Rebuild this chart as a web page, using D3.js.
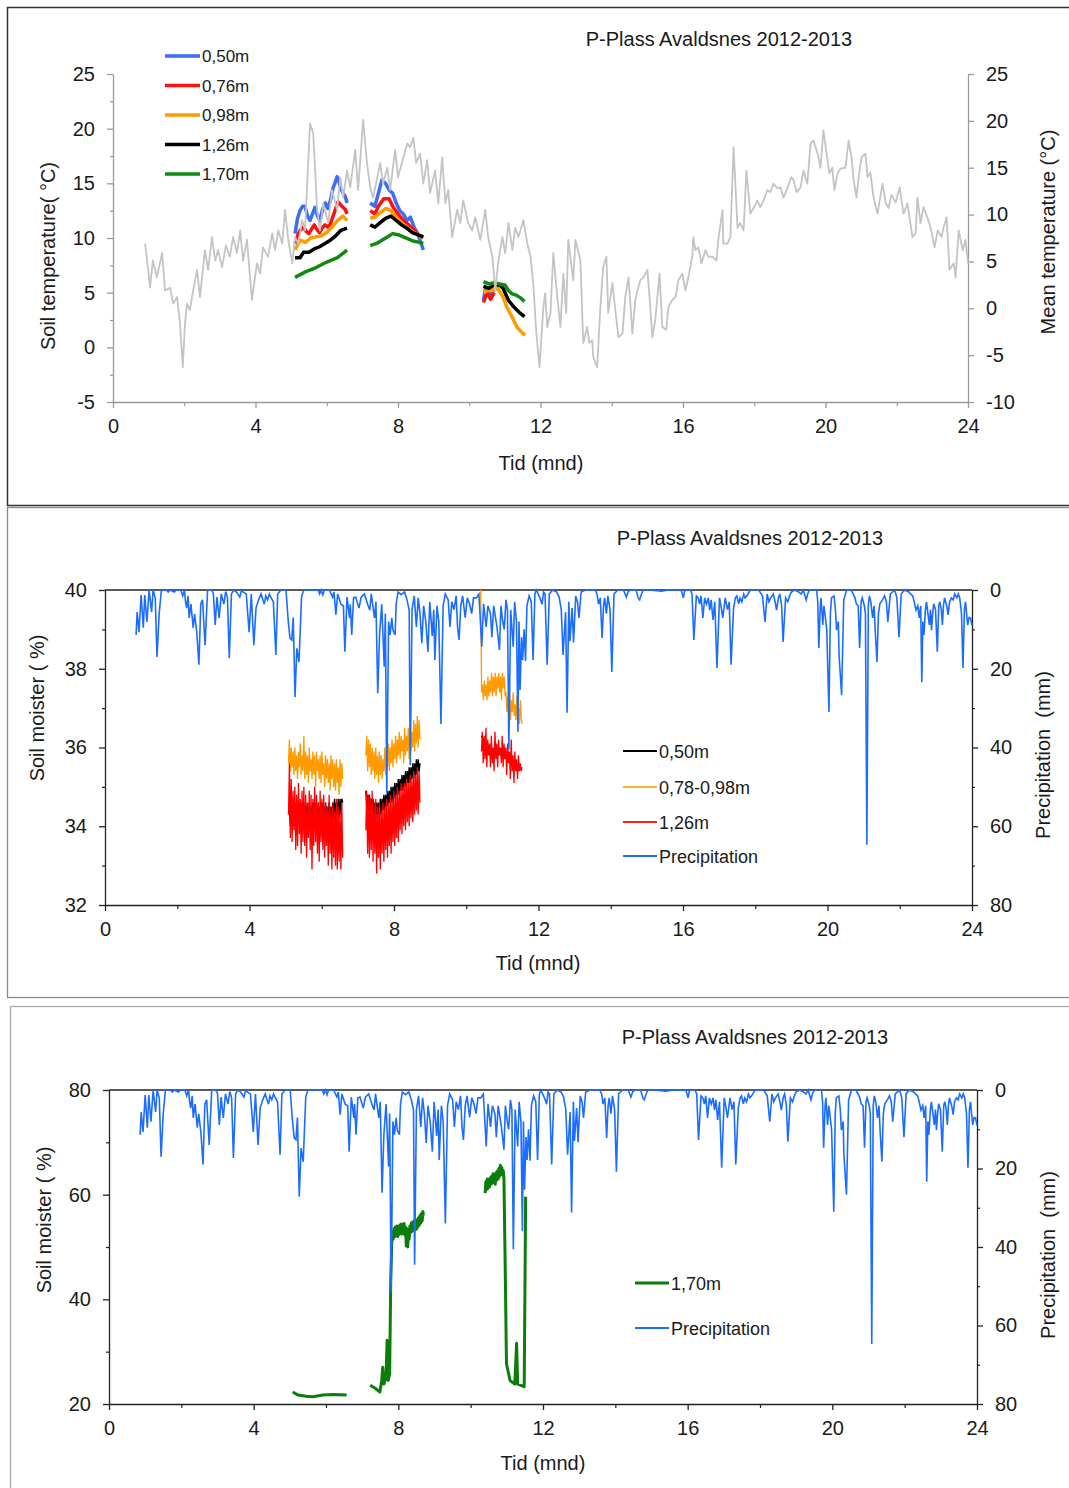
<!DOCTYPE html>
<html>
<head>
<meta charset="utf-8">
<script src="https://cdn.jsdelivr.net/npm/d3@7"></script>
<style>
body { margin: 0; background: #fff; }
text { font-family: "Liberation Sans", Arial, sans-serif; fill: #1a1a1a; }
</style>
</head>
<body>
<div id="chart"></div>
<script>
// ---------- data (month, value) ----------
var monthTicks = [0, 4, 8, 12, 16, 20, 24];
var monthMinor = [2, 6, 10, 14, 18, 22];

// mean air temperature (right axis, deg C)
var meanTemp = [[0.9,6.9],[0.98,4.4],[1.04,2.2],[1.12,5.1],[1.23,3.3],[1.38,5.9],[1.46,1.9],[1.6,2.2],[1.69,0.5],[1.8,1.2],[1.88,-1.6],[1.96,-6.3],[2.02,-1.6],[2.08,0.5],[2.16,-0.2],[2.25,1.9],[2.36,4.1],[2.44,1.2],[2.58,6.2],[2.67,4.1],[2.78,7.6],[2.87,5.1],[2.95,6.2],[3.06,4.4],[3.17,6.7],[3.28,5.5],[3.37,7.6],[3.48,5.9],[3.57,8.3],[3.65,5.1],[3.76,7.3],[3.9,0.9],[4.04,4.8],[4.13,3.7],[4.21,6.5],[4.35,5.5],[4.47,8.0],[4.55,6.2],[4.64,8.3],[4.75,6.9],[4.83,10.5],[4.92,7.3],[5.03,4.8],[5.11,7.6],[5.2,6.9],[5.31,9.4],[5.39,8.3],[5.53,19.7],[5.62,18.7],[5.73,10.5],[5.81,8.3],[5.9,11.2],[6.04,9.1],[6.15,12.6],[6.29,10.5],[6.38,14.0],[6.46,11.8],[6.57,14.7],[6.66,12.9],[6.8,16.9],[6.88,12.6],[7.02,20.1],[7.13,15.5],[7.22,12.9],[7.3,11.8],[7.42,14.0],[7.5,15.5],[7.58,13.3],[7.7,15.0],[7.78,12.6],[7.92,16.9],[8.0,14.0],[8.15,16.1],[8.26,17.6],[8.34,17.2],[8.43,18.2],[8.51,15.5],[8.62,16.5],[8.71,13.3],[8.82,15.8],[8.9,12.3],[9.04,14.7],[9.13,11.2],[9.24,16.1],[9.33,11.2],[9.41,12.6],[9.52,7.6],[9.66,10.5],[9.75,9.1],[9.83,11.5],[9.97,9.1],[10.08,8.3],[10.17,9.7],[10.31,7.3],[10.45,10.5],[10.53,7.6],[10.65,5.5],[10.73,1.9],[10.82,5.1],[10.93,7.6],[11.01,5.9],[11.1,9.1],[11.21,6.2],[11.29,8.6],[11.38,7.6],[11.52,9.4],[11.63,6.9],[11.72,5.5],[11.8,2.5],[11.88,-2.5],[11.97,-6.3],[12.08,0.1],[12.13,1.6],[12.19,-2.0],[12.28,-0.5],[12.36,5.9],[12.47,1.2],[12.56,-2.0],[12.64,3.7],[12.72,-0.5],[12.78,7.3],[12.86,4.8],[12.92,3.0],[12.98,7.3],[13.12,5.1],[13.2,-3.7],[13.31,-2.0],[13.37,-3.7],[13.45,-3.4],[13.48,-5.2],[13.59,-6.3],[13.68,0.1],[13.76,4.4],[13.85,5.5],[13.9,-0.5],[14.02,2.7],[14.1,-0.2],[14.19,-3.1],[14.3,-2.7],[14.38,1.2],[14.47,3.3],[14.58,-2.7],[14.66,0.9],[14.72,1.9],[14.8,3.0],[14.89,3.3],[15.0,4.1],[15.06,1.2],[15.14,-3.1],[15.22,-1.3],[15.34,3.7],[15.42,-2.0],[15.53,-2.3],[15.59,0.1],[15.7,0.9],[15.79,1.2],[15.87,3.0],[15.98,3.7],[16.07,1.9],[16.15,3.3],[16.26,5.5],[16.29,7.6],[16.35,6.2],[16.43,6.5],[16.52,4.8],[16.63,6.2],[16.71,5.5],[16.83,5.5],[16.94,5.1],[16.99,7.3],[17.11,10.5],[17.13,6.9],[17.25,6.9],[17.33,7.6],[17.42,17.2],[17.53,8.6],[17.61,9.1],[17.7,8.3],[17.78,14.7],[17.89,10.1],[18.0,10.8],[18.09,11.5],[18.17,10.8],[18.26,11.5],[18.37,12.6],[18.45,12.4],[18.54,13.3],[18.65,12.8],[18.74,12.9],[18.82,11.8],[18.93,12.8],[19.04,14.0],[19.1,13.7],[19.19,12.4],[19.3,12.9],[19.38,14.7],[19.49,13.3],[19.58,17.6],[19.66,17.9],[19.78,16.5],[19.86,15.0],[19.94,19.0],[20.03,16.5],[20.11,14.4],[20.19,15.0],[20.25,12.6],[20.34,14.4],[20.42,14.9],[20.56,15.0],[20.65,17.9],[20.73,16.1],[20.79,13.7],[20.87,11.8],[20.93,14.0],[21.01,16.1],[21.12,16.5],[21.18,14.0],[21.26,14.5],[21.35,11.8],[21.46,10.1],[21.6,13.3],[21.69,11.2],[21.77,10.7],[21.85,12.1],[21.97,11.3],[22.08,12.9],[22.19,10.1],[22.3,11.2],[22.44,7.6],[22.53,8.0],[22.58,11.8],[22.67,9.1],[22.75,10.8],[22.86,9.7],[22.95,8.6],[23.06,6.5],[23.15,8.3],[23.26,7.6],[23.31,8.6],[23.4,9.7],[23.48,4.1],[23.6,4.8],[23.65,3.3],[23.74,8.3],[23.85,6.2],[23.93,7.3],[24.0,4.8]];

// soil temperature per depth, three logging periods each
var soilT050 = [
  [[5.11,10.4],[5.18,11.8],[5.25,12.5],[5.32,12.9],[5.39,12.9],[5.46,12.0],[5.53,11.6],[5.6,12.2],[5.67,12.8],[5.74,12.0],[5.81,11.6],[5.88,12.6],[5.96,13.2],[6.03,12.7],[6.1,13.4],[6.18,14.6],[6.24,15.1],[6.29,15.6],[6.34,15.2],[6.38,14.6],[6.46,14.1],[6.52,13.8],[6.57,13.2]],
  [[7.22,13.2],[7.35,12.9],[7.45,14.1],[7.55,15.3],[7.65,15.0],[7.75,14.4],[7.85,14.1],[7.95,13.2],[8.05,12.5],[8.15,12.2],[8.25,11.6],[8.35,11.9],[8.45,11.0],[8.55,10.4],[8.65,9.5],[8.71,8.9]],
  [[10.4,4.3],[10.45,5.3],[10.5,5.0],[10.6,4.9],[10.7,5.3]]
];
var soilT076 = [
  [[5.11,9.5],[5.18,10.2],[5.25,10.7],[5.35,11.0],[5.42,10.6],[5.5,10.4],[5.57,10.8],[5.65,11.2],[5.72,10.8],[5.8,10.5],[5.87,10.9],[5.95,11.2],[6.03,11.0],[6.1,11.3],[6.2,12.2],[6.26,12.8],[6.32,13.3],[6.4,13.0],[6.46,12.8],[6.52,12.6],[6.57,12.2]],
  [[7.22,12.5],[7.35,12.2],[7.45,12.9],[7.6,13.6],[7.75,13.6],[7.85,12.9],[8.0,12.2],[8.15,11.6],[8.3,11.2],[8.45,10.7],[8.6,10.2],[8.71,10.1]],
  [[10.4,4.1],[10.5,5.0],[10.6,4.4],[10.7,5.0]]
];
var soilT098 = [
  [[5.11,8.9],[5.25,9.8],[5.4,9.6],[5.55,10.0],[5.7,10.1],[5.85,10.2],[6.0,10.5],[6.15,11.0],[6.3,11.6],[6.45,12.0],[6.57,11.6]],
  [[7.22,11.8],[7.35,11.9],[7.5,12.3],[7.65,12.7],[7.8,12.5],[7.95,11.9],[8.1,11.4],[8.25,11.0],[8.4,10.6],[8.55,10.3],[8.71,10.0]],
  [[10.4,5.0],[10.5,5.2],[10.65,5.2],[10.8,5.4],[10.95,4.6],[11.05,3.7],[11.2,2.8],[11.35,1.8],[11.5,1.3],[11.57,1.1]]
];
var soilT126 = [
  [[5.11,8.2],[5.25,8.2],[5.35,8.7],[5.5,8.7],[5.65,9.0],[5.8,9.2],[5.95,9.5],[6.1,9.8],[6.25,10.2],[6.4,10.7],[6.57,10.9]],
  [[7.22,11.2],[7.35,11.0],[7.5,11.4],[7.65,11.8],[7.8,12.0],[7.95,11.6],[8.1,11.2],[8.25,10.9],[8.4,10.5],[8.55,10.3],[8.71,10.1]],
  [[10.4,5.6],[10.55,5.4],[10.7,5.7],[10.85,5.7],[10.95,5.4],[11.1,4.3],[11.25,3.7],[11.4,3.2],[11.55,2.8]]
];
var soilT170 = [
  [[5.11,6.4],[5.4,6.9],[5.7,7.3],[6.0,7.8],[6.3,8.2],[6.57,8.9]],
  [[7.22,9.3],[7.4,9.5],[7.55,9.8],[7.7,10.1],[7.85,10.4],[8.0,10.3],[8.15,10.1],[8.3,9.9],[8.45,9.7],[8.6,9.6],[8.71,9.5]],
  [[10.4,6.0],[10.55,5.8],[10.7,5.9],[10.85,5.8],[11.0,5.7],[11.1,5.2],[11.2,4.9],[11.3,4.8],[11.45,4.5],[11.55,4.2]]
];
var soilTNames = ["0,50m", "0,76m", "0,98m", "1,26m", "1,70m"];

// daily precipitation (mm)
var precip = [[0.86,11.4],[0.89,5.6],[0.94,10.7],[1.0,1.3],[1.06,9.6],[1.1,1.3],[1.16,8.1],[1.22,0],[1.29,5.6],[1.33,0],[1.39,2],[1.44,17],[1.5,6],[1.56,0],[1.7,0],[1.75,0.5],[1.8,0],[1.92,0.5],[1.97,0],[2.1,0],[2.15,1.5],[2.2,0],[2.23,3],[2.26,4.6],[2.3,1.5],[2.33,7.1],[2.38,3.6],[2.44,9.6],[2.48,6.1],[2.54,10.7],[2.6,19],[2.65,3.6],[2.7,2.5],[2.77,14],[2.84,0],[2.95,0],[3.0,0.8],[3.05,8.9],[3.1,1.8],[3.16,7.1],[3.22,1],[3.29,3.6],[3.34,0.4],[3.39,2],[3.44,17.3],[3.5,1],[3.56,0],[3.64,0.5],[3.73,1.8],[3.78,0],[3.82,0.5],[3.91,1],[3.99,10.7],[4.05,1],[4.12,14],[4.18,4.6],[4.25,2.5],[4.32,1],[4.37,2.5],[4.41,3.6],[4.45,1.5],[4.5,2.5],[4.55,1],[4.59,1.8],[4.66,3],[4.73,16.5],[4.78,1],[4.87,0],[5.01,0],[5.07,7.6],[5.12,12.2],[5.17,12.7],[5.21,7],[5.26,27.2],[5.31,14.8],[5.37,18.3],[5.44,1.8],[5.5,0],[5.9,0],[5.94,1],[5.98,0],[6.03,1.2],[6.07,0],[6.21,0],[6.3,1.8],[6.34,0.5],[6.39,6.3],[6.44,1],[6.53,3.6],[6.6,4],[6.64,15.7],[6.7,1.8],[6.77,7.1],[6.79,3.6],[6.83,11.4],[6.88,2],[6.94,1.8],[7.03,4.6],[7.09,1.8],[7.18,1],[7.27,3.6],[7.33,5.1],[7.37,1],[7.46,7.1],[7.5,3],[7.55,26.2],[7.6,11.4],[7.66,3.6],[7.73,19.5],[7.76,6],[7.8,51.5],[7.85,8],[7.89,11.4],[7.94,7.1],[7.97,10.2],[8.03,11.4],[8.06,3.6],[8.11,0.5],[8.2,1.2],[8.29,0.5],[8.36,2.5],[8.42,5.1],[8.45,44.5],[8.5,5],[8.56,1.5],[8.62,9.4],[8.67,2],[8.72,6],[8.77,13.5],[8.82,4],[8.88,8],[8.94,15.7],[8.99,3],[9.06,11.7],[9.1,5],[9.13,17.8],[9.19,4],[9.24,8],[9.3,34],[9.36,4],[9.42,1],[9.5,2.5],[9.55,9.4],[9.6,3],[9.66,5],[9.72,1.5],[9.76,9.4],[9.8,12.7],[9.85,4],[9.9,1.5],[9.97,7],[10.03,2],[10.09,3.5],[10.15,6],[10.2,2],[10.28,2],[10.35,1],[10.43,14.4],[10.48,3.5],[10.55,9.4],[10.6,4],[10.67,6],[10.71,12],[10.76,4],[10.81,7],[10.85,9.4],[10.92,15.2],[10.96,4],[11.01,8],[11.05,10],[11.1,2.5],[11.14,5],[11.18,40.6],[11.23,5],[11.3,14.4],[11.34,3],[11.39,8],[11.43,36],[11.46,8],[11.49,25.4],[11.53,12],[11.56,17.8],[11.6,10],[11.64,18],[11.68,4],[11.74,1.5],[11.8,3],[11.85,17.8],[11.9,1],[11.94,0],[12.04,2],[12.1,3.6],[12.14,0.5],[12.18,1],[12.24,19],[12.3,1],[12.39,0],[12.5,0.5],[12.57,1.8],[12.63,5],[12.68,16.5],[12.75,5.6],[12.79,31.2],[12.84,3],[12.87,13],[12.93,4.6],[12.97,13.3],[13.03,1.5],[13.08,3],[13.12,7.1],[13.18,0.5],[13.3,0],[13.57,0],[13.62,1],[13.66,3.6],[13.71,2],[13.76,12.2],[13.8,4],[13.83,2],[13.88,6],[13.92,1.5],[13.98,5],[14.03,20.8],[14.09,1],[14.2,0],[14.35,0],[14.4,1],[14.43,1.8],[14.48,0.5],[14.53,0],[14.7,0],[14.76,2],[14.8,2.5],[14.85,1],[14.9,0],[15.08,0],[15.4,0.3],[15.6,0],[15.95,0],[16.01,2],[16.05,0],[16.2,0],[16.25,1],[16.3,12.7],[16.37,1.5],[16.42,2],[16.46,3.6],[16.5,1.5],[16.55,7.1],[16.6,2],[16.65,3.6],[16.7,2],[16.74,5.1],[16.78,2.5],[16.83,7.6],[16.88,3],[16.94,19.8],[17.01,2],[17.05,4],[17.1,7.1],[17.17,2],[17.23,5],[17.28,3],[17.33,19],[17.4,4.6],[17.45,2],[17.49,1.5],[17.54,3.5],[17.58,2],[17.63,3],[17.68,1],[17.72,2],[17.77,1.5],[17.86,0],[18.1,0],[18.13,0.5],[18.2,1.5],[18.27,8.1],[18.33,1],[18.38,3],[18.43,2],[18.5,1],[18.55,3],[18.59,5.1],[18.64,2],[18.68,1],[18.73,4],[18.77,13.2],[18.84,2],[18.9,3],[18.95,1.5],[19.0,0.5],[19.09,0],[19.2,0.5],[19.27,1],[19.33,0],[19.41,2.5],[19.45,1],[19.5,0],[19.7,0],[19.73,3],[19.76,14.7],[19.8,4],[19.82,2],[19.85,6],[19.87,8.9],[19.9,4],[19.93,6],[19.98,10.2],[20.04,31],[20.08,6],[20.11,2],[20.18,1.5],[20.22,5],[20.25,10.2],[20.3,8],[20.32,16.5],[20.39,26.7],[20.45,2.5],[20.53,0],[20.65,0],[20.71,1],[20.76,2],[20.8,3.6],[20.85,4],[20.89,14.7],[20.93,3],[20.96,2],[21.02,4],[21.05,6],[21.09,64.7],[21.13,4],[21.16,1.5],[21.2,3],[21.25,7.1],[21.29,4],[21.32,10.2],[21.37,18.3],[21.41,6],[21.45,3.5],[21.52,2.5],[21.58,1.5],[21.63,3],[21.67,8.1],[21.74,1],[21.8,0.5],[21.86,0],[21.92,2],[21.98,12],[22.04,1],[22.13,0],[22.25,0.5],[22.3,1],[22.36,1.5],[22.4,3],[22.45,5.1],[22.5,4],[22.54,7.1],[22.58,4],[22.61,23.4],[22.64,8],[22.67,11.4],[22.71,5],[22.74,3],[22.78,6],[22.82,8.9],[22.85,5],[22.88,10.2],[22.91,6],[22.94,3.5],[22.99,5],[23.04,15.7],[23.08,4],[23.11,3],[23.15,5],[23.18,8.9],[23.21,4],[23.24,2],[23.3,4],[23.34,6.3],[23.38,3],[23.43,2],[23.48,2.5],[23.52,1],[23.58,2],[23.62,1],[23.66,2],[23.71,6],[23.75,19.8],[23.79,5],[23.82,3],[23.85,6],[23.88,8.9],[23.92,7],[23.96,7.1],[24.0,9]];

// soil moisture (%), logged readings: first month, step (months), values
var moist126A = {start: 5.08, step: 0.025, values: [34.3,35.6,33.7,35.2,33.6,34.9,33.9,35.0,33.4,34.8,33.5,35.1,33.8,34.7,33.3,34.9,33.6,35.0,33.5,34.8,33.2,34.6,33.7,34.9,33.4,34.8,32.9,34.7,33.5,35.0,33.6,34.8,33.3,34.6,33.1,34.9,33.6,34.7,33.4,34.8,33.2,34.6,33.5,34.5,33.0,34.8,33.3,34.5,32.9,34.6,33.2,34.4,33.0,34.7,32.9,34.5,33.1,34.4,32.9,34.6,33.2]};
var moist126B = {start: 7.22, step: 0.025, values: [33.9,34.9,33.3,34.8,33.2,34.7,33.4,34.9,33.1,34.6,33.3,34.7,32.8,34.5,33.2,34.6,32.9,34.4,33.3,34.6,33.1,34.5,33.4,34.7,33.2,34.6,33.5,34.8,33.3,34.7,33.6,34.9,33.5,34.8,33.7,35.0,33.6,34.9,33.9,35.1,33.8,35.0,34.0,35.1,33.9,35.2,34.1,35.1,34.0,35.3,34.2,35.2,34.1,35.4,34.3,35.3,34.4,35.5,34.3,35.4,34.6]};
var moist126C = {start: 10.42, step: 0.025, values: [35.9,36.4,35.6,36.3,35.7,36.5,35.5,36.2,35.8,36.1,35.5,36.3,35.6,36.0,35.4,36.4,35.7,36.1,35.5,36.2,35.8,36.0,35.6,36.3,35.5,36.1,35.7,36.0,35.3,36.1,35.6,35.9,35.2,36.2,35.4,35.8,35.1,35.9,35.4,35.7,35.2,35.8,35.4,35.6,35.4,35.5]};
var moist098A = {start: 5.08, step: 0.025, values: [35.6,36.2,35.4,36.0,35.5,35.9,35.3,36.0,35.4,35.8,35.2,35.9,35.5,36.1,35.3,35.8,35.4,36.3,35.2,35.9,35.3,35.8,35.1,36.0,35.4,35.7,35.2,35.9,35.3,35.8,35.0,35.9,35.4,35.7,35.2,35.8,35.1,35.9,35.3,35.6,35.0,35.8,35.2,35.7,35.1,35.6,34.9,35.8,35.2,35.7,35.0,35.6,34.9,35.7,35.1,35.5,34.8,35.7,35.0,35.6,35.2]};
var moist098B = {start: 7.22, step: 0.025, values: [35.8,36.3,35.4,36.2,35.5,36.1,35.3,36.0,35.4,35.9,35.2,36.0,35.3,35.8,35.1,35.9,35.3,35.8,35.2,35.7,35.4,36.0,35.3,35.9,35.5,36.1,35.4,36.0,35.6,36.2,35.5,36.1,35.7,36.3,35.6,36.2,35.8,36.4,35.7,36.3,35.9,36.2,35.6,36.5,35.8,36.3,35.9,36.5,35.7,36.6,35.9,36.4,36.0,36.7,35.9,36.6,36.1,36.8,36.0,36.7,36.2]};
var moist098C = {start: 10.40, step: 0.025, values: [40.0,37.4,37.6,37.2,37.7,37.3,37.6,37.2,37.8,37.3,37.7,37.4,37.9,37.3,37.8,37.4,37.9,37.3,37.8,37.5,37.9,37.4,37.8,37.2,37.9,37.5,37.8,37.3,37.4,36.9,37.3,36.8,37.4,36.7,37.2,36.9,37.4,36.8,37.1,36.7,37.3,36.6,37.0,36.6,37.2,36.7,36.6]};
var moist050A = {start: 5.08, step: 0.025, values: [34.3,34.5,34.0,34.6,34.1,34.5,34.0,34.6,34.2,34.5,34.0,34.6,34.1,34.5,34.0,34.6,34.1,34.5,34.0,34.6,34.2,34.5,34.0,34.6,34.1,34.5,34.0,34.6,34.2,34.6,34.0,34.5,34.1,34.6,34.0,34.5,34.2,34.6,34.1,34.5,34.0,34.6,34.1,34.5,34.2,34.6,34.0,34.5,34.1,34.6,34.2,34.7,34.1,34.6,34.3,34.7,34.2,34.7,34.3,34.7,34.6]};
var moist050B = {start: 7.22, step: 0.025, values: [34.9,34.5,34.8,34.4,34.8,34.4,34.7,34.3,34.7,34.3,34.6,34.2,34.6,34.3,34.6,34.2,34.7,34.3,34.7,34.4,34.8,34.4,34.8,34.5,34.9,34.5,34.9,34.6,35.0,34.6,35.0,34.7,35.1,34.7,35.1,34.8,35.2,34.8,35.2,34.9,35.3,34.9,35.3,35.0,35.4,35.0,35.4,35.1,35.5,35.1,35.5,35.2,35.6,35.2,35.6,35.3,35.7,35.3,35.7,35.4,35.6]};
var moist050C = {start: 10.42, step: 0.05, values: [36.3,36.2,36.1,36.0,35.9]};

var moist170 = [
  [[5.08,22.3],[5.23,21.7],[5.45,21.5],[5.64,21.4],[5.91,21.7],[6.2,21.8],[6.57,21.7]],
  [[7.22,23.6],[7.36,23.0],[7.49,22.3],[7.54,24.5],[7.57,27.0],[7.6,23.8],[7.66,25.1],[7.69,32.2],[7.72,24.5],[7.76,25.7],[7.79,43.6],[7.82,51.3],[7.84,53.0],[7.86,51.5],[7.88,53.5],[7.9,52.0],[7.92,53.8],[7.94,52.2],[7.96,54.0],[7.98,52.0],[8.0,53.6],[8.02,52.4],[8.04,54.2],[8.06,52.6],[8.08,54.4],[8.1,52.5],[8.12,54.0],[8.14,52.8],[8.16,54.5],[8.18,52.3],[8.2,53.8],[8.22,50.2],[8.24,53.5],[8.26,50.0],[8.28,53.2],[8.3,51.5],[8.32,54.0],[8.34,52.8],[8.36,54.6],[8.38,53.0],[8.4,54.8],[8.42,53.2],[8.44,55.0],[8.46,53.5],[8.48,54.6],[8.5,53.4],[8.52,55.2],[8.54,53.8],[8.56,55.6],[8.58,54.2],[8.6,56.0],[8.62,54.6],[8.64,56.4],[8.66,55.0],[8.68,56.8],[8.69,56.0]],
  [[10.4,60.3],[10.42,62.5],[10.44,61.0],[10.46,63.0],[10.48,61.2],[10.5,62.8],[10.52,61.5],[10.54,63.2],[10.56,62.0],[10.58,63.5],[10.6,62.2],[10.62,64.0],[10.64,62.6],[10.66,63.4],[10.68,62.0],[10.7,64.2],[10.72,62.8],[10.74,64.5],[10.76,63.0],[10.78,65.0],[10.8,63.5],[10.82,65.6],[10.84,64.0],[10.86,65.2],[10.88,63.8],[10.9,64.6],[10.92,63.0],[10.96,43.6],[10.99,27.7],[11.09,24.5],[11.22,23.8],[11.27,31.6],[11.3,23.8],[11.41,23.5],[11.48,23.3],[11.52,59.6]]
];

// ---------- drawing ----------
var svg = d3.select("#chart").append("svg")
    .attr("width", 1069)
    .attr("height", 1488);

function readings(s) {
  return s.values.map(function(v, i) { return [s.start + i * s.step, v]; });
}

function styleAxis(g, color, fs) {
  g.attr("font-size", null).attr("font-family", null);
  g.select(".domain").attr("stroke", color).attr("stroke-width", 1.3);
  g.selectAll(".tick line").attr("stroke", color).attr("stroke-width", 1.3);
  g.selectAll(".tick text").attr("font-size", fs).attr("fill", "#1a1a1a");
}

function minorAxis(axis, at, color) {
  var g = svg.append("g").attr("transform", at).call(axis);
  g.select(".domain").remove();
  g.selectAll(".tick line").attr("stroke", color).attr("stroke-width", 1.2);
}

function plain(d) { return String(d); }

function title(x, y, txt) {
  svg.append("text").attr("x", x).attr("y", y).attr("text-anchor", "middle")
    .attr("font-size", 20).text(txt);
}
function vtitle(x, y, txt) {
  svg.append("text").attr("transform", "translate(" + x + "," + y + ") rotate(-90)")
    .attr("text-anchor", "middle").attr("font-size", 20)
    .style("white-space", "pre").text(txt);
}

// panel frames
svg.append("rect").attr("x", 7.5).attr("y", 7.5).attr("width", 1070).attr("height", 498)
  .attr("fill", "none").attr("stroke", "#333").attr("stroke-width", 1.5);
svg.append("rect").attr("x", 7.5).attr("y", 507.5).attr("width", 1070).attr("height", 490)
  .attr("fill", "none").attr("stroke", "#8a8a8a").attr("stroke-width", 1.3);
svg.append("rect").attr("x", 10.5).attr("y", 1006.5).attr("width", 1070).attr("height", 500)
  .attr("fill", "none").attr("stroke", "#aaa").attr("stroke-width", 1.3);

// ===== Panel 1: soil temperature =====
var x1 = d3.scaleLinear().domain([0, 24]).range([113, 968]);
var yL1 = d3.scaleLinear().domain([-5, 25]).range([402, 74]);
var yR1 = d3.scaleLinear().domain([-10, 25]).range([402, 74]);
var axisGrey = "#9a9a9a";

svg.append("g").attr("transform", "translate(0,402)")
  .call(d3.axisBottom(x1).tickValues(monthTicks).tickFormat(plain).tickSize(6).tickSizeOuter(0).tickPadding(11))
  .call(function(g) { styleAxis(g, axisGrey, 20); });
minorAxis(d3.axisBottom(x1).tickValues(monthMinor).tickSize(4).tickFormat(""), "translate(0,402)", axisGrey);

svg.append("g").attr("transform", "translate(113,0)")
  .call(d3.axisLeft(yL1).tickValues([-5, 0, 5, 10, 15, 20, 25]).tickFormat(plain).tickSize(6).tickSizeOuter(0).tickPadding(12))
  .call(function(g) { styleAxis(g, axisGrey, 20); });
minorAxis(d3.axisLeft(yL1).tickValues([-2.5, 2.5, 7.5, 12.5, 17.5, 22.5]).tickSize(3).tickFormat(""), "translate(113,0)", axisGrey);

svg.append("g").attr("transform", "translate(968,0)")
  .call(d3.axisRight(yR1).tickValues([-10, -5, 0, 5, 10, 15, 20, 25]).tickFormat(plain).tickSize(6).tickSizeOuter(0).tickPadding(12))
  .call(function(g) { styleAxis(g, axisGrey, 20); });

var soilTColors = ["#3d6cf5", "#ff1010", "#ff9a00", "#000000", "#108a10"];
[soilT050, soilT076, soilT098, soilT126, soilT170].forEach(function(series, k) {
  var ln = d3.line().x(function(d) { return x1(d[0]); }).y(function(d) { return yL1(d[1]); });
  series.forEach(function(seg) {
    svg.append("path").datum(seg).attr("d", ln)
      .attr("fill", "none").attr("stroke", soilTColors[k]).attr("stroke-width", 3.5)
      .attr("stroke-linejoin", "round");
  });
});

var meanLine = d3.line().x(function(d) { return x1(d[0]); }).y(function(d) { return yR1(d[1]); });
svg.append("path").datum(meanTemp).attr("d", meanLine)
  .attr("fill", "none").attr("stroke", "#c4c4c4").attr("stroke-width", 1.8).attr("stroke-linejoin", "round");

soilTNames.forEach(function(name, k) {
  var y = 56 + k * 29.5;
  svg.append("line").attr("x1", 165).attr("x2", 200).attr("y1", y).attr("y2", y)
    .attr("stroke", soilTColors[k]).attr("stroke-width", 3.5);
  svg.append("text").attr("x", 202).attr("y", y + 6).attr("font-size", 17).text(name);
});

title(719, 46, "P-Plass Avaldsnes 2012-2013");
title(541, 470, "Tid (mnd)");
vtitle(55, 256, "Soil temperature( °C)");
vtitle(1055, 232, "Mean temperature (°C)");

// ===== Panel 2: soil moisture 0.50-1.26 m =====
var x2 = d3.scaleLinear().domain([0, 24]).range([105, 972]);
var yL2 = d3.scaleLinear().domain([32, 40]).range([905, 590]);
var yR2 = d3.scaleLinear().domain([0, 80]).range([590, 905]);
var axisDark = "#222";

svg.append("line").attr("x1", 105).attr("x2", 972).attr("y1", 590).attr("y2", 590)
  .attr("stroke", axisDark).attr("stroke-width", 1.5);
svg.append("g").attr("transform", "translate(0,905)")
  .call(d3.axisBottom(x2).tickValues(monthTicks).tickFormat(plain).tickSize(6).tickSizeOuter(0).tickPadding(11))
  .call(function(g) { styleAxis(g, axisDark, 20); });
minorAxis(d3.axisBottom(x2).tickValues(monthMinor).tickSize(4).tickFormat(""), "translate(0,905)", axisDark);
svg.append("g").attr("transform", "translate(105,0)")
  .call(d3.axisLeft(yL2).tickValues([32, 34, 36, 38, 40]).tickFormat(plain).tickSize(6).tickSizeOuter(0).tickPadding(12))
  .call(function(g) { styleAxis(g, axisDark, 20); });
minorAxis(d3.axisLeft(yL2).tickValues([33, 35, 37, 39]).tickSize(3).tickFormat(""), "translate(105,0)", axisDark);
svg.append("g").attr("transform", "translate(972,0)")
  .call(d3.axisRight(yR2).tickValues([0, 20, 40, 60, 80]).tickFormat(plain).tickSize(6).tickSizeOuter(0).tickPadding(12))
  .call(function(g) { styleAxis(g, axisDark, 20); });
minorAxis(d3.axisRight(yR2).tickValues([10, 30, 50, 70]).tickSize(3).tickFormat(""), "translate(972,0)", axisDark);

var moistLine = d3.line().x(function(d) { return x2(d[0]); }).y(function(d) { return yL2(d[1]); });
[[moist050A, moist050B, moist050C, "#000", 1.4],
 [moist098A, moist098B, moist098C, "#ff9a00", 1.3],
 [moist126A, moist126B, moist126C, "#ff0000", 1.3]].forEach(function(s) {
  [s[0], s[1], s[2]].forEach(function(seg) {
    svg.append("path").datum(readings(seg)).attr("d", moistLine)
      .attr("fill", "none").attr("stroke", s[3]).attr("stroke-width", s[4]);
  });
});

var precipColor = "#1c6dff";
var precipLine2 = d3.line().x(function(d) { return x2(d[0]); }).y(function(d) { return yR2(d[1]); });
svg.append("path").datum(precip).attr("d", precipLine2)
  .attr("fill", "none").attr("stroke", precipColor).attr("stroke-width", 1.6);

[["0,50m", "#000"], ["0,78-0,98m", "#ffb030"], ["1,26m", "#ff2020"], ["Precipitation", precipColor]].forEach(function(d, k) {
  var y = [751, 787, 822, 856][k];
  svg.append("line").attr("x1", 623).attr("x2", 657).attr("y1", y).attr("y2", y)
    .attr("stroke", d[1]).attr("stroke-width", 2);
  svg.append("text").attr("x", 659).attr("y", y + 6.5).attr("font-size", 18).text(d[0]);
});

title(750, 545, "P-Plass Avaldsnes 2012-2013");
title(538, 970, "Tid (mnd)");
vtitle(44, 708, "Soil moister ( %)");
vtitle(1050, 755, "Precipitation  (mm)");

// ===== Panel 3: soil moisture 1.70 m =====
var x3 = d3.scaleLinear().domain([0, 24]).range([109, 977]);
var yL3 = d3.scaleLinear().domain([20, 80]).range([1404, 1090]);
var yR3 = d3.scaleLinear().domain([0, 80]).range([1090, 1404]);

svg.append("line").attr("x1", 109).attr("x2", 977).attr("y1", 1090).attr("y2", 1090)
  .attr("stroke", axisDark).attr("stroke-width", 1.5);
svg.append("g").attr("transform", "translate(0,1404)")
  .call(d3.axisBottom(x3).tickValues(monthTicks).tickFormat(plain).tickSize(6).tickSizeOuter(0).tickPadding(11))
  .call(function(g) { styleAxis(g, axisDark, 20); });
minorAxis(d3.axisBottom(x3).tickValues(monthMinor).tickSize(4).tickFormat(""), "translate(0,1404)", axisDark);
svg.append("g").attr("transform", "translate(109,0)")
  .call(d3.axisLeft(yL3).tickValues([20, 40, 60, 80]).tickFormat(plain).tickSize(6).tickSizeOuter(0).tickPadding(12))
  .call(function(g) { styleAxis(g, axisDark, 20); });
minorAxis(d3.axisLeft(yL3).tickValues([30, 50, 70]).tickSize(3).tickFormat(""), "translate(109,0)", axisDark);
svg.append("g").attr("transform", "translate(977,0)")
  .call(d3.axisRight(yR3).tickValues([0, 20, 40, 60, 80]).tickFormat(plain).tickSize(6).tickSizeOuter(0).tickPadding(12))
  .call(function(g) { styleAxis(g, axisDark, 20); });
minorAxis(d3.axisRight(yR3).tickValues([10, 30, 50, 70]).tickSize(3).tickFormat(""), "translate(977,0)", axisDark);

var greenLine = d3.line().x(function(d) { return x3(d[0]); }).y(function(d) { return yL3(d[1]); });
moist170.forEach(function(seg) {
  svg.append("path").datum(seg).attr("d", greenLine)
    .attr("fill", "none").attr("stroke", "#0b7d0b").attr("stroke-width", 3).attr("stroke-linejoin", "round");
});
var precipLine3 = d3.line().x(function(d) { return x3(d[0]); }).y(function(d) { return yR3(d[1]); });
svg.append("path").datum(precip).attr("d", precipLine3)
  .attr("fill", "none").attr("stroke", precipColor).attr("stroke-width", 1.6);

[["1,70m", "#0b7d0b", 3], ["Precipitation", precipColor, 2]].forEach(function(d, k) {
  var y = [1283, 1328][k];
  svg.append("line").attr("x1", 635).attr("x2", 669).attr("y1", y).attr("y2", y)
    .attr("stroke", d[1]).attr("stroke-width", d[2]);
  svg.append("text").attr("x", 671).attr("y", y + 6.5).attr("font-size", 18).text(d[0]);
});

title(755, 1044, "P-Plass Avaldsnes 2012-2013");
title(543, 1470, "Tid (mnd)");
vtitle(51, 1220, "Soil moister ( %)");
vtitle(1055, 1255, "Precipitation  (mm)");
</script>
</body>
</html>
